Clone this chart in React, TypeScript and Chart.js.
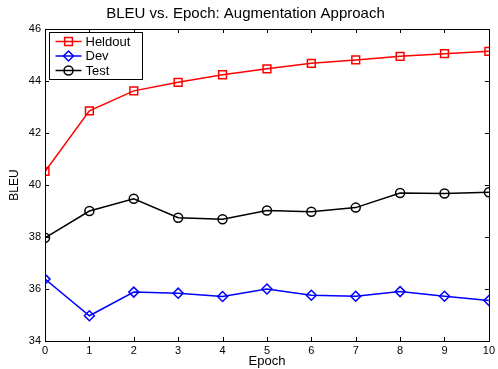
import React, { useEffect, useRef } from "react";
import { Chart, registerables } from "chart.js";

Chart.register(...registerables);

const epochs = [0, 1, 2, 3, 4, 5, 6, 7, 8, 9, 10];
const heldout = [40.52, 42.85, 43.62, 43.95, 44.24, 44.47, 44.68, 44.81, 44.95, 45.05, 45.14];
const dev = [36.38, 34.97, 35.88, 35.84, 35.71, 36.0, 35.76, 35.72, 35.9, 35.72, 35.56];
const test = [37.97, 39.0, 39.47, 38.74, 38.68, 39.02, 38.97, 39.13, 39.69, 39.67, 39.72];
const yTicks = [34, 36, 38, 40, 42, 44, 46];
const xTicks = [0, 1, 2, 3, 4, 5, 6, 7, 8, 9, 10];

const FONT = "'Liberation Sans', Arial, Helvetica, sans-serif";

function drawMarker(ctx: CanvasRenderingContext2D, style: string, x: number, y: number, r: number, color: string) {
  ctx.save();
  ctx.strokeStyle = color;
  ctx.lineWidth = 1.5;
  ctx.beginPath();
  if (style === "rect") {
    const s = Math.SQRT1_2 * r;
    ctx.rect(x - s, y - s, 2 * s, 2 * s);
  } else if (style === "rectRot") {
    ctx.moveTo(x, y - r);
    ctx.lineTo(x + r, y);
    ctx.lineTo(x, y + r);
    ctx.lineTo(x - r, y);
    ctx.closePath();
  } else {
    ctx.arc(x, y, r, 0, Math.PI * 2);
  }
  ctx.stroke();
  ctx.restore();
}

const framePlugin = {
  id: "matlabFrame",
  afterDraw(chart: any) {
    const { ctx, chartArea: a, scales } = chart;
    ctx.save();
    ctx.strokeStyle = "#000";
    ctx.lineWidth = 1;
    ctx.strokeRect(Math.round(a.left) + 0.5, Math.round(a.top) + 0.5, Math.round(a.right - a.left), Math.round(a.bottom - a.top));
    const tl = 4;
    ctx.beginPath();
    for (const v of xTicks) {
      const px = Math.round(scales.x.getPixelForValue(v)) + 0.5;
      ctx.moveTo(px, a.bottom);
      ctx.lineTo(px, a.bottom - tl);
      ctx.moveTo(px, a.top);
      ctx.lineTo(px, a.top + tl);
    }
    for (const v of yTicks) {
      const py = Math.round(scales.y.getPixelForValue(v)) + 0.5;
      ctx.moveTo(a.left, py);
      ctx.lineTo(a.left + tl, py);
      ctx.moveTo(a.right, py);
      ctx.lineTo(a.right - tl, py);
    }
    ctx.stroke();

    // legend
    const bx = Math.round(a.left) + 4.5;
    const by = Math.round(a.top) + 3.5;
    const bw = 93;
    const bh = 47;
    ctx.fillStyle = "#fff";
    ctx.fillRect(bx, by, bw, bh);
    ctx.strokeStyle = "#000";
    ctx.lineWidth = 1;
    ctx.strokeRect(bx, by, bw, bh);
    ctx.font = `13px ${FONT}`;
    ctx.textBaseline = "middle";
    ctx.textAlign = "left";
    chart.data.datasets.forEach((ds: any, i: number) => {
      const y = by + 9 + i * 14.5;
      ctx.strokeStyle = ds.borderColor;
      ctx.lineWidth = 1.5;
      ctx.beginPath();
      ctx.moveTo(bx + 6, y);
      ctx.lineTo(bx + 32, y);
      ctx.stroke();
      drawMarker(ctx, ds.pointStyle, bx + 19, y, ds.pointRadius, ds.borderColor);
      ctx.fillStyle = "#000";
      ctx.fillText(ds.label, bx + 36, y + 0.5);
    });
    ctx.restore();
  },
};

export default function App() {
  const ref = useRef<HTMLCanvasElement | null>(null);
  useEffect(() => {
    document.body.style.margin = "0";
    const canvas = ref.current;
    if (!canvas) return;
    const chart = new Chart(canvas, {
      type: "line",
      data: {
        labels: epochs,
        datasets: [
          {
            label: "Heldout",
            data: epochs.map((e, i) => ({ x: e, y: heldout[i] })),
            borderColor: "#ff0000",
            backgroundColor: "transparent",
            pointStyle: "rect",
            pointRadius: 5.5,
            pointBorderWidth: 1.5,
            borderWidth: 1.5,
            tension: 0,
          },
          {
            label: "Dev",
            data: epochs.map((e, i) => ({ x: e, y: dev[i] })),
            borderColor: "#0000ff",
            backgroundColor: "transparent",
            pointStyle: "rectRot",
            pointRadius: 5,
            pointBorderWidth: 1.5,
            borderWidth: 1.5,
            tension: 0,
          },
          {
            label: "Test",
            data: epochs.map((e, i) => ({ x: e, y: test[i] })),
            borderColor: "#000000",
            backgroundColor: "transparent",
            pointStyle: "circle",
            pointRadius: 4.5,
            pointBorderWidth: 1.5,
            borderWidth: 1.5,
            tension: 0,
          },
        ],
      } as any,
      options: {
        responsive: false,
        animation: false,
        devicePixelRatio: 1,
        layout: { padding: { left: 0, right: 7, top: 0, bottom: 0 } },
        plugins: {
          legend: { display: false },
          tooltip: { enabled: false },
          title: {
            display: true,
            text: "BLEU vs. Epoch: Augmentation Approach",
            color: "#000",
            font: { family: FONT, size: 15, weight: "normal" },
            padding: { top: 5, bottom: 6 },
          },
        },
        scales: {
          x: {
            type: "linear",
            min: 0,
            max: 10,
            afterFit: (s: any) => {
              s.height = 28;
            },
            afterBuildTicks: (s: any) => {
              s.ticks = xTicks.map((v) => ({ value: v }));
            },
            ticks: { color: "#000", font: { family: FONT, size: 11 }, padding: 3, autoSkip: false, maxRotation: 0 },
            grid: { display: false, drawTicks: false },
            border: { display: false },
            title: { display: true, text: "Epoch", color: "#000", font: { family: FONT, size: 13 }, padding: { top: 0, bottom: 0 } },
          },
          y: {
            type: "linear",
            min: 34,
            max: 46,
            afterFit: (s: any) => {
              s.width = 45;
            },
            afterBuildTicks: (s: any) => {
              s.ticks = yTicks.map((v) => ({ value: v }));
            },
            ticks: { color: "#000", font: { family: FONT, size: 11 }, padding: 4, autoSkip: false },
            grid: { display: false, drawTicks: false },
            border: { display: false },
            title: { display: true, text: "BLEU", color: "#000", font: { family: FONT, size: 12 }, padding: { top: 7, bottom: 0 } },
          },
        },
      } as any,
      plugins: [framePlugin],
    });
    return () => chart.destroy();
  }, []);
  return <canvas ref={ref} width={498} height={369} style={{ display: "block", width: 498, height: 369 }} />;
}
